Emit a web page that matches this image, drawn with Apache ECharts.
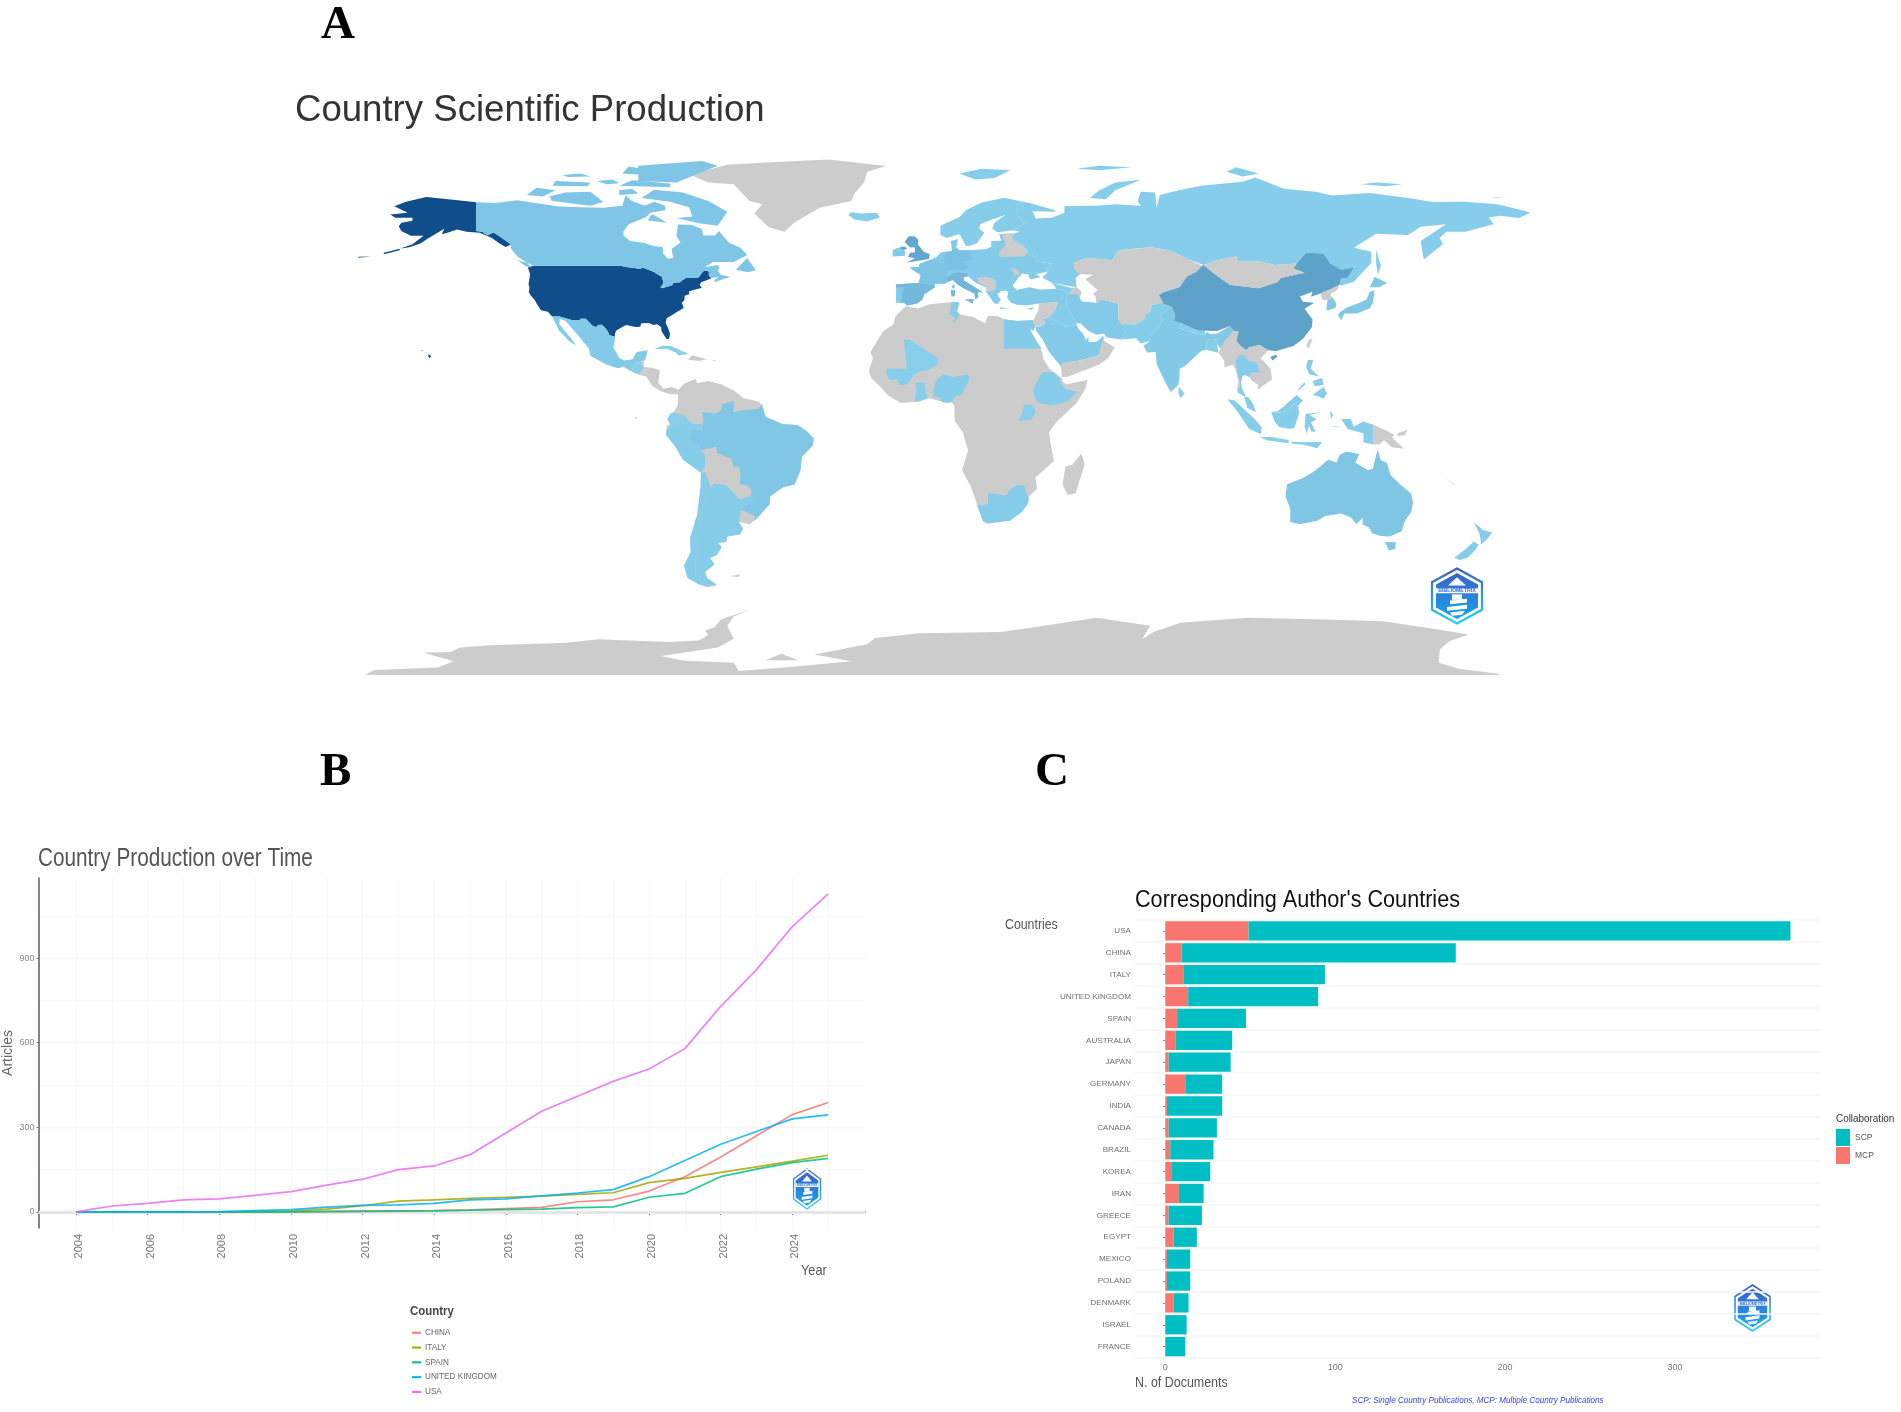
<!DOCTYPE html>
<html><head><meta charset="utf-8">
<style>html,body{margin:0;padding:0;background:#fff}#c{width:1901px;height:1412px}</style>
<script src="https://cdn.jsdelivr.net/npm/echarts@6/dist/echarts.min.js"></script>
</head><body><div id="c"></div>
<script>
// ---- panel B values
const years=[2004,2005,2006,2007,2008,2009,2010,2011,2012,2013,2014,2015,2016,2017,2018,2019,2020,2021,2022,2023,2024,2025];
const usaArticles=[0,21,30,43,46,59,72,95,116,150,163,203,280,357,410,463,507,579,729,859,1012,1128];
const chinaArticles=[0,0,0,0,0,1,1,2,3,4,5,7,12,16,36,43,74,125,195,270,345,388];
const italyArticles=[0,0,0,0,0,1,3,10,22,38,43,48,52,56,62,68,104,119,140,160,180,201];
const spainArticles=[0,0,0,0,0,0,0,1,2,3,4,6,8,10,15,18,52,66,125,152,175,190];
const ukArticles=[0,0,0,0,1,5,8,17,23,25,30,43,46,57,67,79,125,182,240,285,330,344];
// ---- panel C values
const corrCountries=['USA','CHINA','ITALY','UNITED KINGDOM','SPAIN','AUSTRALIA','JAPAN','GERMANY','INDIA','CANADA','BRAZIL','KOREA','IRAN','GREECE','EGYPT','MEXICO','POLAND','DENMARK','ISRAEL','FRANCE'];
const mcpDocs=[49,9.6,10.6,13.5,7,6,2,11.8,1,2,3,4,8,2,5,1,1,5,0,0];
const scpDocs=[319,161.4,83.4,76.5,40.5,33.4,36.5,21.7,32.5,28.4,25.4,22.5,14.6,19.6,13.6,13.7,13.7,8.7,12.6,11.8];
// ---- panel A values (articles per country)
const mapCountries=['USA','China','United Kingdom','Italy','Spain','Germany','France','Canada','Australia','Brazil','Europe (other)','Norway, Sweden, Finland','Ireland','Russia','Mexico','Guatemala','Cuba','Peru','Ecuador','Argentina','Chile','Egypt','Tunisia','Mali','Ghana','Nigeria','Ethiopia','Uganda','South Africa','Turkey','Georgia','Iran','Iraq','Saudi Arabia','Pakistan','India','Nepal','Bangladesh','Sri Lanka','South Korea','Japan','Thailand','Malaysia','Indonesia','Philippines','New Zealand','Svalbard'];
const mapArticles=[1128,388,344,201,190,120,95,76,80,72,30,14,25,6,40,5,4,8,5,10,10,30,6,3,5,8,6,3,16,25,3,40,12,30,12,48,3,8,4,50,55,16,16,12,6,18,6];
// ---- land outlines, [longitude, latitude] rings; later entries paint over earlier ones
const landShapes=[
['Antarctica',[[[-176,-84],[-173,-82.4],[-153,-81.6],[-148,-79.5],[-157.5,-76.8],[-149,-76.5],[-146,-75.1],[-136.6,-74.3],[-112.4,-73.5],[-102.5,-72.4],[-81,-73.3],[-71,-72.8],[-68,-71],[-69,-69.5],[-66,-68.5],[-64,-66],[-54.7,-62.6],[-60,-65],[-62,-68],[-60,-72.2],[-65,-75.1],[-82.8,-77.8],[-75.5,-79.4],[-60,-80],[-58.4,-82.7],[-44,-81.6],[-23,-79.5],[-34.6,-77.3],[-18,-74],[-15.5,-72],[-1.5,-70.4],[24,-70],[34,-68.6],[54,-65.4],[71,-68],[68.4,-72.4],[72,-70],[80.5,-67],[102,-65.4],[126,-66],[144,-66.5],[160,-69],[171,-70.8],[165,-73],[162,-75.7],[161.7,-80],[168,-82],[180,-83.5],[181,-84]],[[-50,-79.2],[-45,-77.1],[-39.6,-79.2]]]],
['Greenland',[[[-73,78.2],[-68,76],[-60,75.5],[-55,70],[-51,69],[-53.5,66],[-49,61.5],[-44,60],[-41,63],[-33,67.8],[-23,70],[-22,72.5],[-19,76],[-18,79.5],[-12,81.4],[-30,83.5],[-50,82.5],[-62,81.8],[-68,80.2]]]],
['USA',[[[-124.7,48.4],[-123,49],[-95.2,49],[-94.6,48.7],[-92,48.3],[-89.6,48],[-88.4,48.3],[-84.8,46.9],[-84.5,46.5],[-83.6,46.1],[-82.5,45.3],[-82.1,43.5],[-82.5,42.6],[-83.1,42.1],[-82.5,41.7],[-79,42.8],[-79.2,43.5],[-76.8,43.6],[-76.3,44.2],[-75,45],[-71.5,45],[-70.8,45.4],[-70.3,46.2],[-70,46.7],[-69.2,47.45],[-68.3,47.35],[-67.8,47.05],[-67.8,45.7],[-67,44.9],[-68.5,44.3],[-70.2,43.6],[-70.7,42.7],[-70,41.8],[-71.4,41.4],[-74,40.7],[-74,39.7],[-75.4,39.2],[-75.5,37.8],[-76.3,37],[-75.7,35.3],[-76.6,34.7],[-78,33.9],[-79.3,33],[-81,32],[-81.4,30.5],[-80.5,28.4],[-80,26.8],[-80.3,25.3],[-81,25.1],[-81.8,26.2],[-82.7,27.8],[-82.8,29],[-84,30],[-85.3,29.7],[-86.5,30.4],[-89,30.3],[-89.4,29.2],[-90.8,29.1],[-93.8,29.7],[-95,29.1],[-97,27.9],[-97.4,26.5],[-97.2,25.95],[-99.1,26.4],[-99.5,27.5],[-100.6,29],[-101.4,29.8],[-102.7,29.7],[-103.2,29],[-104.5,29.6],[-106.5,31.75],[-108.2,31.75],[-108.2,31.33],[-111,31.33],[-114.8,32.5],[-117.1,32.5],[-118.4,34],[-120.6,34.5],[-121.9,36.6],[-122.5,37.8],[-123.8,39.3],[-124.4,40.4],[-124.2,42],[-124.5,43],[-124,46.2]],
[[-141,69.6],[-141,60.3],[-139,60],[-137.5,58.9],[-135.5,59.8],[-133.4,58.4],[-130,55.9],[-131.7,55.1],[-134,56.5],[-136,58],[-139.8,59.7],[-144,60],[-147,60.8],[-149.5,59.9],[-151.8,59.2],[-151,61],[-153.5,59.5],[-156,57.9],[-158.5,56.2],[-162,55],[-164.8,54.6],[-161,56],[-157.5,58.7],[-161.5,58.7],[-164.5,60.3],[-165.3,61.8],[-164.5,63],[-161,63.6],[-161,64.6],[-166.4,64.6],[-168,65.6],[-162.5,66.2],[-166.7,68.3],[-163,69.8],[-156.7,71.3],[-152,70.8],[-146,70.2]],
[[-156,20.2],[-155,19.7],[-155.7,18.95],[-156,19.6]],[[-158.2,21.6],[-157.7,21.4],[-158,21.2]],[[-170,52.7],[-165,54],[-165,54.5],[-170,53.2]],[[-178,51.6],[-174,52],[-174,52.3],[-178,51.9]]]],
['Canada',[[[-141,69.6],[-135,69.4],[-128,70.3],[-124,69.6],[-115,68.2],[-108,68],[-101,67.8],[-95,68.5],[-94,71.9],[-92,70],[-88,68.5],[-85,69.8],[-81.5,68.5],[-81.5,67],[-86,66.3],[-87.5,64.8],[-93,62.5],[-94.7,60],[-94.6,58.7],[-92.5,57],[-88,56.4],[-85,55.3],[-82.3,55.1],[-82.2,53],[-80.7,51.3],[-79,51.5],[-79.5,54.5],[-76.7,56.5],[-78,58.7],[-77.5,62.4],[-73.5,62.3],[-70,60.9],[-69.5,58.8],[-66,58.8],[-64.6,60.3],[-61.5,56.5],[-58,54.9],[-55.7,52.5],[-60,50.2],[-66.5,50.2],[-69,48.5],[-65,49.2],[-64.4,48.5],[-65,47.5],[-64,46],[-61,45.4],[-63.5,44.6],[-66,43.6],[-66,44.5],[-64.5,45.4],[-67,45],[-67.8,45.7],[-67.8,47.05],[-68.3,47.35],[-69.2,47.45],[-70,46.7],[-70.3,46.2],[-70.8,45.4],[-71.5,45],[-75,45],[-76.3,44.2],[-76.8,43.6],[-79.2,43.5],[-79,42.8],[-82.5,41.7],[-83.1,42.1],[-82.5,42.6],[-82.1,43.5],[-82.5,45.3],[-83.6,46.1],[-84.5,46.5],[-84.8,46.9],[-88.4,48.3],[-89.6,48],[-92,48.3],[-94.6,48.7],[-95.2,49],[-123,49],[-125,50],[-128,52],[-130,54.5],[-130,55.9],[-133.4,58.4],[-135.5,59.8],[-137.5,58.9],[-139,60],[-141,60.3]],
[[-128,50.8],[-125,50],[-123.5,48.4],[-125.5,48.9]],[[-59.3,47.7],[-55.8,51.5],[-53,47.5],[-55.5,46.9]],[[-62,66.5],[-65,62],[-71,62.8],[-78,64.5],[-73,65],[-74,68],[-80,69.8],[-89,71],[-85,73.7],[-76,72.8],[-68,70]],[[-117,70],[-105,68.5],[-101,69.7],[-105,73],[-113,72.8],[-118,71.5]],[[-125,72],[-120,71.5],[-116,73.5],[-122,74.3]],[[-90,76.5],[-78,76],[-65,81.5],[-70,83],[-90,81.5]],[[-96,75],[-80,74.5],[-80,75.7],[-92,76.8]],[[-117,75],[-106,74.8],[-105,76],[-116,76.5]],[[-96,72],[-90,72.5],[-92,74],[-96,73.5]],[[-87,63.7],[-81,63],[-85,65.5],[-86,65.5]],[[-95,79],[-88,78.5],[-85,80],[-93,81.2]],[[-100,75.5],[-96,75.8],[-98,77],[-103,76.5]],[[-112,77.8],[-105,78],[-108,79],[-114,78.5]]]],
['Mexico',[[[-117.1,32.5],[-114.8,32.5],[-111,31.33],[-108.2,31.33],[-108.2,31.75],[-106.5,31.75],[-104.5,29.6],[-103.2,29],[-102.7,29.7],[-101.4,29.8],[-100.6,29],[-99.5,27.5],[-99.1,26.4],[-97.2,25.95],[-97.8,22.5],[-96,19],[-94.5,18.2],[-91.8,18.6],[-90.5,21],[-87,21.5],[-87.8,18.3],[-89.1,17.9],[-91,17.2],[-92.2,14.6],[-94.5,16.2],[-96.5,15.7],[-100,16.9],[-105,19.7],[-105.5,22],[-109,26.5],[-113,31.2],[-114.7,31.7],[-114.8,30],[-110.5,24.5],[-109.5,23],[-112,24.8],[-115,28]]]],
['Central America',[[[-89.2,17.9],[-88.3,18.4],[-88.2,16],[-86,15.9],[-83.2,15],[-83.7,11],[-82,9],[-79.5,9.6],[-77.4,8.7],[-77.9,7.2],[-80,7.3],[-81.5,7.8],[-83,8.3],[-85.7,10],[-87.5,13],[-89.5,13.4],[-90.5,13.9]]]],
['Guatemala',[[[-92.2,14.6],[-91,17.2],[-89.2,17.8],[-88.3,15.7],[-89.5,14.2],[-90.5,13.9]]]],
['Cuba',[[[-84.9,21.9],[-82.5,23],[-80,23],[-75,20.7],[-74.2,20.2],[-77.5,19.9],[-78,20.7],[-81,22]]]],
['Hispaniola',[[[-74.4,18.5],[-73,19.9],[-68.4,18.6],[-71,18]],[[-67.2,18.4],[-65.7,18.4],[-66,18]]]],
['South America (other)',[[[-77.4,8.7],[-75.5,10.7],[-72,12.2],[-71.5,10.8],[-68,11.5],[-64,10.5],[-60,8.5],[-57,6],[-52,4.8],[-51,3.5],[-50,0],[-48.5,-0.7],[-44.5,-2.5],[-40,-2.8],[-37,-4.8],[-34.8,-7.2],[-35.2,-9.5],[-38.5,-13],[-39,-17.5],[-40.8,-22],[-44.5,-23],[-48.5,-25.9],[-48.7,-28.5],[-52,-32.3],[-53.4,-33.8],[-55,-35],[-58.4,-34.2],[-57,-36.5],[-58,-38.3],[-62,-39],[-62.3,-40.8],[-65,-41],[-63.8,-42.5],[-65.3,-45],[-67.5,-46],[-66,-48],[-69,-50.5],[-68.4,-52.4],[-65.2,-54.8],[-68,-55.5],[-71,-54.5],[-74.5,-52.5],[-75.6,-48.5],[-73.5,-44],[-73.7,-39.5],[-71.5,-32],[-70.4,-23],[-70.3,-18.3],[-76,-14],[-78.5,-9.5],[-81.3,-6],[-81,-3],[-80,-2.5],[-80.8,-1],[-80,0.8],[-78.8,1.5],[-77.5,3.9],[-77.5,7],[-77.9,7.2]],[[-61,-51.8],[-58,-51.3],[-58.5,-52.2]]]],
['Brazil',[[[-51,4.2],[-51,3.5],[-50,0],[-48.5,-0.7],[-44.5,-2.5],[-40,-2.8],[-37,-4.8],[-34.8,-7.2],[-35.2,-9.5],[-38.5,-13],[-39,-17.5],[-40.8,-22],[-44.5,-23],[-48.5,-25.9],[-48.7,-28.5],[-52,-32.3],[-53.4,-33.8],[-53.2,-32.5],[-57.6,-30.2],[-54,-27],[-54.6,-25.6],[-54.3,-24],[-55.8,-22.3],[-58,-22],[-57.9,-19],[-58.2,-16.3],[-60.2,-16.3],[-60.5,-13.8],[-65.3,-11.8],[-65.4,-9.8],[-70.5,-11],[-70.6,-9.5],[-74,-7.5],[-73,-4.3],[-70,-4.3],[-69.5,-1],[-70,1.5],[-67,1.2],[-66,0.8],[-64,2],[-63.5,4],[-60,5],[-60,1.5],[-57,2],[-54.5,2.3],[-52,2.5]]]],
['Peru',[[[-75.2,-0.1],[-73,-2.3],[-70,-2.5],[-70,-4.3],[-73,-4.3],[-74,-7.5],[-70.6,-9.5],[-70.5,-11],[-69,-12.5],[-69,-16.5],[-70.3,-18.3],[-76,-14],[-78.5,-9.5],[-81.3,-6],[-81,-4],[-80,-3.4],[-78,-3.5]]]],
['Ecuador',[[[-78.8,1.4],[-75.2,0],[-75.2,-0.1],[-78,-3.5],[-80,-3.4],[-80,-2.5],[-80.8,-1],[-80,0.8]],[[-91,-0.3],[-90.3,-0.3],[-90.7,-1]]]],
['Argentina',[[[-66.2,-21.8],[-62.6,-22.2],[-58,-27],[-54.3,-25.6],[-54,-27],[-57.6,-30.2],[-58.2,-33],[-58.4,-34.2],[-57,-36.5],[-58,-38.3],[-62,-39],[-62.3,-40.8],[-65,-41],[-63.8,-42.5],[-65.3,-45],[-67.5,-46],[-66,-48],[-69,-50.5],[-68.4,-52.4],[-65.2,-54.8],[-68.6,-54.9],[-68.6,-52.7],[-72,-52],[-72,-48],[-71.5,-42],[-71,-36],[-69.8,-30],[-68.3,-24.5]]]],
['Chile',[[[-70.3,-18.3],[-69,-18],[-67.2,-23],[-68.3,-24.5],[-69.8,-30],[-71,-36],[-71.5,-42],[-72,-48],[-72,-52],[-68.6,-52.7],[-68.6,-54.9],[-68,-55.5],[-71,-54.5],[-74.5,-52.5],[-75.6,-48.5],[-73.5,-44],[-73.7,-39.5],[-71.5,-32],[-70.4,-23]]]],
['Africa (other)',[[[-5.9,35.8],[-2,35.1],[1.5,36.5],[9.8,37.3],[11,37],[10.2,34.3],[11,33.2],[15.3,32.3],[19,30.3],[20,32.7],[23,32.6],[25,31.6],[29,31],[32,31.2],[34.2,31.3],[32.6,29.9],[33.8,27],[35.5,24],[37,21],[37.4,18.7],[39.3,15.5],[43.2,12.5],[43.4,11.5],[44.5,10.4],[51.2,11.9],[50.8,9.5],[47.9,4.5],[41.5,-1.8],[39.2,-5],[39.5,-8],[40.7,-14.5],[34.9,-19.8],[35.4,-23.5],[32.9,-25.8],[32.4,-28.5],[30.5,-31],[27,-33.8],[20,-34.8],[18.4,-34],[16.5,-28.5],[14.5,-22.5],[11.8,-17.5],[13.7,-11],[12,-5],[9.5,-1.5],[9.4,3.5],[8.5,4.6],[5.5,4.8],[1.2,6],[-2,4.8],[-7.5,4.4],[-11.5,6.9],[-13.7,9.5],[-16.7,12.4],[-17.5,14.7],[-16.2,19],[-17,21],[-13,27.7],[-9.7,30],[-9.2,32.5]],[[49.3,-12],[50.4,-15.5],[47.5,-24.9],[45,-25.5],[43.4,-22],[44.3,-16.2],[46.5,-15.7]]]],
['Egypt',[[[25,31.6],[29,31],[32.3,31.2],[34.2,31.3],[34.9,29.5],[34.2,27.8],[33.2,28.5],[32.6,29.8],[33.8,27],[35.5,24],[36.9,22],[25,22]]]],
['Tunisia',[[[8.3,36.9],[9.8,37.3],[11,37],[10.2,34.3],[11,33.2],[10.3,31.7],[9,30.2],[9.5,32.2],[7.7,33.3],[8.3,35]]]],
['Mali',[[[-4.8,25],[4.2,19.1],[4.2,16.9],[1,15],[-0.5,15],[-2,14.2],[-3.5,13.4],[-4.5,11.9],[-5.5,10.4],[-7.5,10.2],[-8.3,11],[-8.4,12.1],[-10.6,11.9],[-11.4,12.4],[-12.2,14.8],[-11.5,15.6],[-9.3,15.5],[-5.5,15.5],[-6.5,25]]]],
['Ghana',[[[-3.2,5.1],[-2,4.8],[1.2,6],[0.5,7.5],[0,11.1],[-2.9,11],[-2.5,8.2]]]],
['Nigeria',[[[2.7,6.4],[4.5,6.3],[5.5,4.8],[7,4.4],[8.5,4.6],[9.6,6.5],[11.7,7],[13.6,10.9],[14.2,12.4],[13.5,13.7],[9,12.8],[6,13.7],[3.6,11.7],[2.8,9]]]],
['Ethiopia',[[[34.1,8.6],[36,12.5],[37,14.3],[38.5,14.4],[40.2,14.5],[42.4,12.5],[42.8,10.9],[44.3,9],[47.9,8],[45,5],[42,4],[39.8,3.5],[36,4.5],[35,5.5]]]],
['Uganda',[[[29.6,-1.4],[33.9,-1],[34,0],[35,1.5],[33.9,3.9],[31.2,3.8],[30.8,1.5]]]],
['South Africa',[[[16.5,-28.6],[18,-28.9],[20,-28.4],[20,-24.8],[23,-25.3],[25.6,-25.7],[27,-23.6],[29.4,-22.2],[31.3,-22.4],[32,-25],[32.9,-26.8],[32.4,-28.5],[30.5,-31],[27,-33.8],[20,-34.8],[18.4,-34]]]],
['Russia',[[[31,69.8],[33,69.4],[41,67],[41,66.5],[34,66.7],[35,64.3],[40,64.6],[44,66.2],[44,68.4],[54,68.5],[60,69],[68,68.5],[67,70],[68,73],[72.5,72.8],[73,68],[74,72],[80,73.5],[87,75],[100,76.3],[104,77.7],[113,74],[123,73],[128,71.8],[140,72.6],[152,71],[160,69.7],[170,69.8],[180,69],[188,67],[190.5,66.2],[187,64.5],[181,65.2],[177.5,64.7],[179,62.5],[170,60],[164,60],[162,58],[163,56],[157,51],[156,57],[164,62.5],[156,61.7],[152,59],[142,59.4],[135,54.8],[140.5,53.5],[140.5,50],[135,43.8],[131,42.6],[130.5,42.8],[131,45],[133,45],[135,48.4],[131,47.7],[127.5,49.8],[125.5,53],[120,53.2],[117,49.7],[110,49.2],[106,50.3],[98.5,50.5],[98,52],[92,50.8],[87.8,49.2],[83,51],[77,54],[71,55],[61,54],[59,50.8],[51,51.6],[47,50],[47,48],[49,46.3],[47.5,45],[47.8,42],[40,43.5],[37,45.2],[39,47.2],[38,47.8],[40,49.6],[35.5,50.4],[34,52.3],[31.5,53.2],[32.5,53.7],[30.8,55.6],[27.7,57.5],[28,59.5],[30,60],[28,60.5],[31.5,62.8],[29.5,64.9],[29,69]],
[[142,54.3],[143.5,49],[142.5,46],[142,50]],[[52,71],[57,70.6],[60,73.5],[68,76.9],[60,76],[55,73.5]],[[95,79.5],[100,78],[105,79],[98,81]],[[137,75.5],[145,74.8],[150,75.5],[142,76]],[[178.5,71.2],[182,71.2],[180,70.9]],[[48,80.5],[55,80],[65,81],[55,81.5]]]],
['Svalbard',[[[11,79],[16,77],[22,77.5],[27,80],[18,80.5]]]],
['Norway, Sweden, Finland',[[[5,59],[7,58],[10.6,59.2],[11.2,59],[13,55.4],[14.3,55.5],[16.5,56.3],[18.8,59.7],[17.2,61],[17.5,62.5],[21.2,64],[25.4,65.5],[22,63],[21.3,61],[22.9,59.9],[28,60.5],[31.5,62.8],[29.5,64.9],[29,69],[31,69.8],[25,71.1],[18,69.5],[13,67],[11,64.8],[5,62]],[[-24,65.5],[-22,64],[-18,63.4],[-14,64.7],[-15,66.2],[-20,66],[-23,66.4]]]],
['Europe (other)',[[[-9,43],[-1.8,43.4],[-1.2,46],[-4.7,48.3],[-1.7,48.7],[-1.5,49.6],[1.5,50.8],[4,52],[5,53.3],[8.7,53.9],[8.2,57],[10.6,57.7],[10,55],[11,54],[14,54],[19.5,54.4],[21,55.2],[21,57],[24.1,57.1],[23.5,59.2],[28,59.5],[27.7,57.5],[30.8,55.6],[32.5,53.7],[31.5,53.2],[34,52.3],[35.5,50.4],[40,49.6],[38,47.8],[39,47.2],[35,46.2],[36.5,45.3],[33.5,44.5],[32.6,45.5],[33,46.1],[30.8,46.5],[29.7,45.3],[28.6,43.8],[27.8,42.7],[28,42],[29,41.2],[26.3,40.3],[26,40.9],[24,40.8],[23.5,40.2],[23,39.9],[23.2,39],[24,38],[23,36.5],[21.7,36.9],[21,38.3],[19.4,40.3],[19.5,41.8],[16,43.5],[13.7,45.6],[12.3,45.3],[12.4,44.2],[16,41.9],[18.5,40.2],[17,40.5],[16.7,39.8],[17,39],[16,38],[15.7,40],[12.3,41.7],[10.3,43],[8.9,44.4],[6.2,43.1],[3.2,43.2],[3.2,41.9],[0,39.8],[-0.7,38],[-2.1,36.8],[-5.4,36.1],[-6.4,36.9],[-9,37],[-8.9,41]],[[23.5,35.5],[26.3,35.2],[24,34.9]],[[32.3,35],[34.5,35.6],[33.6,34.6]]]],
['France',[[[-4.7,48.3],[-1.2,46],[-1.8,43.4],[3.2,42.4],[3.2,43.2],[6.2,43.1],[7.6,43.8],[6.7,45],[7,46],[7.6,47.6],[8,49],[6.3,49.4],[2.5,51],[1.5,50.8],[-1.5,49.6],[-1.7,48.7]],[[8.6,42.5],[9.5,43],[9.4,41.5],[8.8,41.6]]]],
['Germany',[[[6,51],[7,53.4],[8.7,53.9],[9,54.8],[11,54],[14,54],[15,51],[12.2,50.3],[13.7,48.7],[13,47.5],[7.6,47.6],[8,49],[6.3,49.4]]]],
['Spain',[[[-9,43],[-1.8,43.4],[3.2,42.4],[3.2,41.9],[0,39.8],[-0.7,38],[-2.1,36.8],[-5.4,36.1],[-6.4,36.9],[-7.4,37.2],[-7,39.5],[-6.6,42],[-8.9,41.9]]]],
['Italy',[[[6.7,45],[7.6,43.8],[8.9,44.4],[10.3,43],[12.3,41.7],[15.7,40],[16,38],[17,39],[16.7,39.8],[17,40.5],[18.5,40.2],[16,41.9],[12.4,44.2],[12.3,45.3],[13.7,45.6],[13.5,46.5],[10.5,46.9],[8.5,46.2]],[[12.5,38],[15.6,38.2],[15.1,36.7]],[[8.2,41],[9.7,41],[9.5,39.1],[8.5,39]]]],
['United Kingdom',[[[-5.7,50],[1.4,51.2],[1.7,52.7],[-0.2,53.5],[-2,55.8],[-2,57.5],[-3.2,58.6],[-5,58.6],[-6.2,56.7],[-4.7,55],[-3,54.9],[-3,53.4],[-4.6,53.2],[-5.2,51.8],[-3,51.4]],[[-7.4,55.2],[-6,55.2],[-5.5,54.5],[-6.5,54.1],[-8,54.4]]]],
['Ireland',[[[-10,52],[-6.2,52.2],[-6,53.5],[-6.5,54.1],[-8,54.4],[-7.4,55.2],[-10,54.2]]]],
['Belarus and Baltics',[[[24.5,59.5],[27.5,59.5],[28,57],[31,55.5],[32.5,53.7],[31.5,52],[24,51.8],[23.2,52.5],[24,54],[25.5,56],[24.8,58]]]],
['Moldova',[[[27,48.4],[29.2,47.8],[30,46.4],[28.2,45.5],[28,46.8]]]],
['Western Balkans',[[[16.5,45],[19,45.5],[21,45],[22.5,44],[22.5,41.3],[20.5,40.5],[19.5,40.5],[19.5,42],[17,43.5]]]],
['Turkey',[[[26.3,40.3],[26,38.5],[27.3,37],[29,36.3],[32,36.1],[36,36.7],[42,37.2],[44.7,37.2],[44.8,39.7],[43.6,41.1],[41.5,41.5],[36,41.3],[33,42],[29.2,41.2],[27.5,41]],[[26,40.9],[28,42],[29,41.2],[26.3,40.3]]]],
['Georgia',[[[40,43.5],[46,41.8],[46.5,41],[45,39.5],[44.8,39.7],[43.6,41.1],[41.5,41.5]]]],
['Azerbaijan',[[[46,41.8],[47.8,42],[49.5,40.5],[48.8,38.4],[46,38.9],[45,39.5],[46.5,41]]]],
['Iran',[[[44.8,39.7],[48,39.7],[48.8,38.4],[49.5,37.4],[54,37],[56,38],[61,36.6],[61,31.5],[61.8,30.8],[63.3,27.2],[61.7,25],[57.3,25.7],[56.5,27],[54,26.6],[51.5,27.9],[49,30.3],[48,30.3],[46,33],[44.7,37.2]]]],
['Iraq',[[[42,37.2],[44.7,37.2],[46,33],[48,30.3],[47.7,29.9],[46.5,29.1],[44.7,29.2],[39,32.3],[41,34.4]]]],
['Saudi Arabia',[[[34.8,29.3],[36.1,29.2],[37.5,30],[38,30.5],[37,31.5],[39,32.3],[44.7,29.2],[46.5,29.1],[47.7,29.9],[48.4,28.5],[50,26.7],[50.8,24.8],[51.5,26],[51.6,24.2],[54,24.2],[56.3,26.2],[56.3,24.9],[55.5,22.7],[55,20],[52,19],[48.8,18.2],[43.5,17.4],[42.8,16.4],[40,19.9],[38.8,21.6],[37.2,24.9],[35,28]]]],
['Oman and Yemen',[[[56.3,26.2],[56.5,24.5],[59.8,22.5],[57.8,19],[55,17],[52,15.7],[45,12.9],[43.3,12.8],[42.8,16.4],[43.5,17.4],[48.8,18.2],[52,19],[55,20],[55.5,22.7],[56.3,24.9]]]],
['Levant',[[[36,36.7],[42,37.2],[41,34.4],[39,32.3],[37,31.5],[38,30.5],[37.5,30],[36.1,29.2],[34.9,29.5],[34.2,31.3],[35.8,34.5]]]],
['Central Asia',[[[47,50],[51,51.6],[59,50.8],[61,54],[71,55],[77,54],[83,51],[87.3,49],[85.5,47],[82.5,45.4],[80.2,42],[75,40.3],[73.7,39.5],[75,37],[74.5,37],[71.5,36.3],[71,34],[69.3,33],[69.3,31.8],[66.5,30],[62,29.5],[61,31.5],[61,36.6],[56,38],[54,37],[53.8,39],[53,40],[54.5,41],[52.5,42.8],[50.5,44.7],[53,46],[49,46.3],[47,48]]]],
['Pakistan',[[[60.9,29.8],[66.5,30],[69.3,31.8],[69.3,33],[71,34],[71.5,36.3],[74.5,37],[77.8,35.5],[74,33],[75,31],[73,28],[70.5,26],[71,24.5],[68,23.7],[66.5,25.4],[61.7,25],[63.3,27.2]]]],
['India',[[[74,33],[77.8,35.5],[78.8,33],[78.5,31],[81,30.2],[80,28.7],[84,27.4],[88.2,26.4],[88.7,27.5],[89.7,26.8],[92,26.9],[96,29.4],[97.3,27.8],[94.5,24.5],[93,22],[92,23.8],[91.5,24.5],[92,25],[89.8,25.3],[88.7,24.3],[88.8,21.6],[87,21.3],[82,16.5],[80.2,15.5],[80.2,13],[79.8,10.3],[77.5,8],[76,10.5],[73,17],[72.7,21],[70,20.8],[68.8,23],[71,24.5],[70.5,26],[73,28],[75,31]]]],
['Nepal',[[[80,28.7],[81,30.2],[88.2,27.9],[88.2,26.4],[84,27.4]]]],
['Bangladesh',[[[88.7,24.3],[89.8,25.3],[92,25],[91.5,24.5],[92,23.8],[92.4,20.7],[88.8,21.6]]]],
['Sri Lanka',[[[80,9.7],[81.8,7.5],[80.5,5.9],[79.8,7.5]]]],
['China',[[[73.7,39.5],[75,40.3],[80.2,42],[82.5,45.4],[85.5,47],[87.3,49],[87.8,49.2],[91,46.5],[96,42.8],[105,41.7],[111,43.7],[112,45],[119.5,46.7],[116,48],[117,49.7],[120,53.2],[125.5,53],[127.5,49.8],[131,47.7],[135,48.4],[133,45],[131,45],[130.5,42.8],[128,41.5],[124.5,40],[121.5,38.9],[122,40.5],[118,39],[119,37.3],[122.5,37],[119.5,35],[122,31.5],[121.8,29],[119,25.3],[116,22.9],[113,22],[110.5,21.2],[108.2,21.5],[106.5,22.5],[105.3,23.2],[102,22.4],[101.2,21.5],[99.3,23],[98,24.5],[98.7,27.5],[97.3,27.8],[96,29.4],[92,27.8],[88.7,27.9],[86,28],[81,30.2],[78.5,31],[78.8,33],[77.8,35.5],[74.5,37],[75,37]],[[108.7,19.3],[110.5,20.1],[111,19.6],[109.5,18.2]]]],
['Mongolia',[[[87.8,49.2],[92,50.8],[98,52],[98.5,50.5],[106,50.3],[110,49.2],[117,49.7],[116,48],[119.5,46.7],[112,45],[111,43.7],[105,41.7],[96,42.8],[91,46.5]]]],
['North Korea',[[[124.5,40],[128,41.5],[130.5,42.8],[129.7,41],[127.5,39.7],[128.3,38.6],[126.7,37.8],[125,38]]]],
['South Korea',[[[126.7,37.8],[128.3,38.6],[129.4,37],[129.3,35.3],[127,34.5],[126.3,34.7]]]],
['Taiwan',[[[120,23],[121,25.2],[122,25],[120.8,22]]]],
['Japan',[[[130,33],[131,31.2],[132,33.5],[136,33.5],[140,35.2],[141,37],[141.5,41],[140,40.5],[139,38],[136.8,37],[133,35.5],[130.8,34]],[[140,42],[141.5,45.4],[145.5,43.4],[143,42]]]],
['Indochina (other)',[[[93,22],[94.5,24.5],[97.3,27.8],[98.7,27.5],[98,24.5],[99.3,23],[101.2,21.5],[102,22.4],[105.3,23.2],[106.5,22.5],[108.2,21.5],[105.7,19],[108.8,15.5],[109.3,12],[106.8,10.3],[104.9,8.7],[104.8,10.4],[102.9,11.6],[102,13],[100.8,13.5],[100,13.3],[99.2,10.5],[100,8],[98.2,8.5],[98.7,11.5],[97.7,15.5],[97,16.8],[94.3,16],[94.3,18],[92.5,20.7]]]],
['Thailand',[[[97.7,18],[98.2,15.5],[99.2,11],[99.2,9.5],[98.3,8],[100.5,6.5],[101,6.8],[100,8.5],[99.5,10.8],[100,13.3],[100.8,13.5],[102,12.8],[103,14.4],[105.5,14.3],[104.5,17.5],[102,18],[100.5,20],[99,20]]]],
['Malaysia',[[[100.5,6.5],[102,6.2],[103.4,3.8],[104.2,1.4],[101.5,2.8]],[[109,1.5],[111,1.7],[113,3.3],[117,7],[119,5.2],[117.5,3.5],[116,4],[114,2],[112,1.2]]]],
['Indonesia',[[[95.3,5.6],[97.5,5.2],[104,-1],[106,-3.5],[105.8,-5.8],[102,-4],[98.5,1.5]],[[105.3,-6.8],[108.5,-6.6],[114.5,-7.6],[114.5,-8.7],[108,-7.8]],[[109,1.5],[112,1.2],[114,2],[116,4],[117.5,3.5],[117.8,1],[116.2,-3.8],[114.6,-4],[111.5,-3.4],[110,-1.5]],[[119.8,0.8],[125,1.5],[121,0.5],[123.3,-0.9],[121.5,-1.9],[123,-5],[121.6,-4.8],[120.8,-2.9],[120.3,-5.5],[119.5,-3.5]],[[115,-8.2],[119,-8.4],[125,-8.3],[123.5,-10.3],[119.5,-9.2],[116,-8.9]],[[127.5,1.9],[128.5,0.5],[127.8,-0.8]],[[127.8,-3.2],[130.8,-3.3],[129.5,-3.5]],[[131,-0.8],[134,-0.8],[135,-3.3],[137.9,-1.6],[141,-2.6],[141,-9.1],[138,-8.4],[138,-5.5],[133,-4],[132.3,-2.8]]]],
['Papua New Guinea',[[[141,-2.6],[145,-4.5],[147.8,-6],[147,-6.8],[150.8,-10.5],[147,-10],[144.5,-7.7],[143,-9],[141,-9.1]],[[148.5,-5.6],[152,-4.2],[151,-6],[149,-6.3]],[[164,-20],[167,-22.3],[166.5,-22.3]]]],
['Philippines',[[[120.5,18.4],[122.2,18.4],[121.5,15.5],[124,13],[121,13.7],[120,16]],[[122,7],[125.5,9.7],[126.5,7.5],[125.4,5.7],[124,6.5]],[[122,11.5],[125,12.5],[125.5,10.3],[122.8,9.8]],[[117.2,8.4],[119.5,11.2],[119.7,10.4],[117.8,8.6]]]],
['Australia',[[[114,-22],[113.5,-26],[115,-30],[115,-34.3],[118,-35],[123.5,-33.9],[126,-32.3],[131,-31.5],[134,-32.7],[135.8,-34.9],[137.8,-32.9],[137.7,-35.1],[139.7,-36],[140.8,-38],[143.5,-38.8],[146.3,-39],[150,-37.3],[151,-34],[153,-31],[153.6,-28],[153,-25],[149.5,-22],[146.5,-19],[145.4,-15],[143.5,-14.3],[142.5,-10.8],[141.7,-13.7],[141,-17],[139.5,-17.5],[135.5,-15],[136.7,-12.2],[132.6,-11.4],[130.5,-12.5],[129.5,-15],[127,-14],[124.5,-16.2],[122.2,-18],[119,-20]],[[144.8,-40.8],[148.2,-40.9],[148,-43],[146,-43.6]]]],
['New Zealand',[[[172.7,-34.4],[175.5,-36.8],[178.5,-37.7],[176.8,-40],[175,-41.5],[174.8,-39.8],[174.5,-38]],[[172.7,-40.6],[174.3,-41.7],[172.8,-43.8],[170.7,-45.9],[168.3,-46.6],[166.5,-45.9],[170,-43.2]]]]
];
const articleLines=[['CHINA',chinaArticles,'#F8766D'],['ITALY',italyArticles,'#A3A500'],['SPAIN',spainArticles,'#00BF7D'],['UNITED KINGDOM',ukArticles,'#00B0F6'],['USA',usaArticles,'#E76BF3']];
const yMajor=[0,300,600,900], yAll=[0,150,300,450,600,750,900,1050];
const xMajor=[2004,2006,2008,2010,2012,2014,2016,2018,2020,2022,2024];
const docTicks=[0,100,200,300];

const sans='"Liberation Sans",Arial,sans-serif', serif='"Liberation Serif",serif';
echarts.registerMap('world',{type:'FeatureCollection',features:landShapes.map(s=>({type:'Feature',properties:{name:s[0]},geometry:{type:'MultiPolygon',coordinates:s[1].map(r=>[r])}}))});

// free text, optionally condensed horizontally like the squeezed source image
function txt(t,x,y,size,color,sx,extra){
  return {type:'text',x:x,y:y,scaleX:sx||1,silent:true,z:40,
    style:Object.assign({text:t,fontSize:size,fill:color,fontFamily:sans,align:'left',verticalAlign:'middle'},extra||{})};
}

function logo(cx,cy,w,h){
  const g=(a,b)=>new echarts.graphic.LinearGradient(0,0,0,1,[{offset:0,color:a},{offset:1,color:b}]);
  const hex=(s)=>[[0,-h/2*s],[w/2*s,-h/4*s],[w/2*s,h/4*s],[0,h/2*s],[-w/2*s,h/4*s],[-w/2*s,-h/4*s]];
  const kids=[
    {type:'polygon',shape:{points:hex(1)},style:{fill:'#fff',stroke:g('#3f5cc0','#22d3f5'),lineWidth:Math.max(1.4,w*0.045)}},
    {type:'polygon',shape:{points:hex(0.84)},style:{fill:g('#3a62c8','#19a3ee')}},
    {type:'rect',shape:{x:-w*0.42,y:-h*0.14,width:w*0.84,height:h*0.09},style:{fill:'#fff'}},
    {type:'text',x:0,y:-h*0.095,style:{text:'BIBLIOMETRIX',fontSize:w*0.105,fontWeight:'bold',fill:'#2f6fd0',align:'center',verticalAlign:'middle',fontFamily:sans}},
    {type:'polygon',shape:{points:[[0,-h*0.34],[w*0.18,-h*0.19],[-w*0.18,-h*0.19]]},style:{fill:'#fff'}},
    {type:'rect',shape:{x:-w*0.1,y:-h*0.03,width:w*0.2,height:h*0.1},style:{fill:'#fff'}},
    {type:'polygon',shape:{points:[[-w*0.14,h*0.08],[w*0.2,h*0.05],[w*0.2,h*0.12],[-w*0.14,h*0.15]]},style:{fill:'#fff'}},
    {type:'polygon',shape:{points:[[-w*0.2,h*0.2],[w*0.2,h*0.16],[w*0.2,h*0.23],[-w*0.2,h*0.27]]},style:{fill:'#fff'}},
    {type:'polygon',shape:{points:[[-w*0.14,h*0.3],[w*0.16,h*0.27],[w*0.1,h*0.34],[-w*0.1,h*0.36]]},style:{fill:'#fff'}}
  ];
  return {type:'group',x:cx,y:cy,silent:true,z:50,children:kids};
}

const lineSeries=articleLines.map(a=>({type:'line',name:a[0],data:years.map((y,i)=>[y,a[1][i]]),xAxisIndex:0,yAxisIndex:0,symbol:'none',lineStyle:{color:a[2],width:1.7,opacity:.85},itemStyle:{color:a[2]},z:5}));
lineSeries[0].markLine={silent:true,symbol:'none',label:{show:false},lineStyle:{color:'#e6e6e6',width:3,type:'solid'},data:[{yAxis:0}],z:1};

const opt={animation:false,backgroundColor:'#fff',
 visualMap:{show:false,seriesIndex:0,min:1,max:1128,inRange:{color:['#87CEEB','#104E8B']}},
 grid:[
  {left:38.5,top:878,width:826.5,height:350},
  {left:1135,top:920,width:685.7,height:437.6}
 ],
 xAxis:[
  {gridIndex:0,type:'value',min:2002.95,max:2026.03,
   axisLine:{lineStyle:{color:'#666',width:1.6}},
   axisTick:{customValues:xMajor,length:3,lineStyle:{color:'#777'}},
   axisLabel:{customValues:xMajor,rotate:90,fontSize:11,color:'#777',margin:6,verticalAlign:'top',lineHeight:6,formatter:v=>String(v),fontFamily:sans},
   splitLine:{show:true,lineStyle:{color:'#f1f1f1',width:1}}},
  {gridIndex:0,type:'value',min:2002.95,max:2026.03,axisLine:{show:false},axisLabel:{show:false},
   axisTick:{show:false,customValues:years},splitLine:{show:true,lineStyle:{color:'#f7f7f7',width:1}}},
  {gridIndex:1,type:'value',min:-17.8,max:385.8,offset:1.3,
   axisLine:{lineStyle:{color:'#666',width:1.6}},
   axisTick:{customValues:docTicks,length:2,lineStyle:{color:'#888'}},
   axisLabel:{customValues:docTicks,fontSize:9,color:'#777',margin:4,fontFamily:sans},
   splitLine:{show:false}}
 ],
 yAxis:[
  {gridIndex:0,type:'value',min:-57,max:1184,name:'Articles',nameLocation:'middle',nameGap:19,nameRotate:90,
   nameTextStyle:{color:'#666',fontSize:14,fontFamily:sans},
   axisLine:{show:true,lineStyle:{color:'#666',width:1.6}},
   axisTick:{show:true,customValues:yMajor,length:2,lineStyle:{color:'#777'}},
   axisLabel:{customValues:yMajor,fontSize:9,color:'#888',margin:4,fontFamily:sans},
   splitLine:{show:true,lineStyle:{color:'#f1f1f1',width:1.4}}},
  {gridIndex:0,type:'value',min:-57,max:1184,axisLine:{show:false},axisLabel:{show:false},
   axisTick:{show:false,customValues:yAll},splitLine:{show:true,lineStyle:{color:'#f7f7f7',width:1}}},
  {gridIndex:1,type:'category',inverse:true,data:corrCountries,
   axisLine:{show:false},
   axisTick:{show:true,alignWithLabel:true,length:2,lineStyle:{color:'#777'}},
   axisLabel:{fontSize:8.1,color:'#6f6f6f',margin:4,fontFamily:sans,interval:0},
   splitLine:{show:true,interval:0,lineStyle:{color:'#f5f5f5',width:1.5}}}
 ],
 legend:[
  {data:articleLines.map(a=>a[0]),orient:'vertical',left:412,top:1327,padding:0,itemWidth:9,itemHeight:2,itemGap:3.3,icon:'rect',selectedMode:false,
   textStyle:{fontSize:8.2,lineHeight:11.5,color:'#666',fontFamily:sans,padding:[0,0,0,-1]}},
  {data:['SCP','MCP'],orient:'vertical',left:1836,top:1129,padding:0,itemWidth:14,itemHeight:17,itemGap:1,icon:'rect',selectedMode:false,
   textStyle:{fontSize:8.5,color:'#555',fontFamily:sans}}
 ],
 series:[
  {type:'map',map:'world',left:352,top:158,width:1145,height:517,boundingCoords:[[-180,84],[180,-84]],aspectScale:0.9686,silent:true,showLegendSymbol:false,
   label:{show:false},emphasis:{disabled:true},select:{disabled:true},
   itemStyle:{areaColor:'#CCCCCC',borderWidth:0},
   data:mapCountries.map((n,i)=>({name:n,value:mapArticles[i]}))},
  ...lineSeries,
  {type:'bar',name:'MCP',stack:'docs',xAxisIndex:2,yAxisIndex:2,barWidth:19.3,data:mcpDocs,itemStyle:{color:'#F8766D'}},
  {type:'bar',name:'SCP',stack:'docs',xAxisIndex:2,yAxisIndex:2,barWidth:19.3,data:scpDocs,itemStyle:{color:'#00BFC4'}}
 ],
 graphic:[
  txt('A',321,26,47,'#000',1,{fontFamily:serif,fontWeight:'bold'}),
  txt('B',320,773,47,'#000',1,{fontFamily:serif,fontWeight:'bold'}),
  txt('C',1035,773,47,'#000',1,{fontFamily:serif,fontWeight:'bold'}),
  txt('Country Scientific Production',295,111,36.6,'#333'),
  txt('Country Production over Time',38,859,25,'#555',0.83),
  txt('Year',801,1271,15,'#555',0.85),
  txt('Country',410,1311,13,'#444',0.88,{fontWeight:'bold'}),
  txt("Corresponding Author's Countries",1135,901,23,'#111',0.94),
  txt('Countries',1005,925,14,'#555',0.88),
  txt('N. of Documents',1135,1383,15,'#555',0.83),
  txt('SCP: Single Country Publications, MCP: Multiple Country Publications',1352,1400,9,'#3b3bf0',0.9,{fontStyle:'italic'}),
  txt('Collaboration',1836,1119,11,'#333',0.9),
  logo(1457,596,50,55),logo(807,1189,27,40),logo(1752.5,1308,35,46)
 ]
};
const chart=echarts.init(document.getElementById('c'),null,{renderer:'canvas',width:1901,height:1412});
chart.setOption(opt);
</script></body></html>
